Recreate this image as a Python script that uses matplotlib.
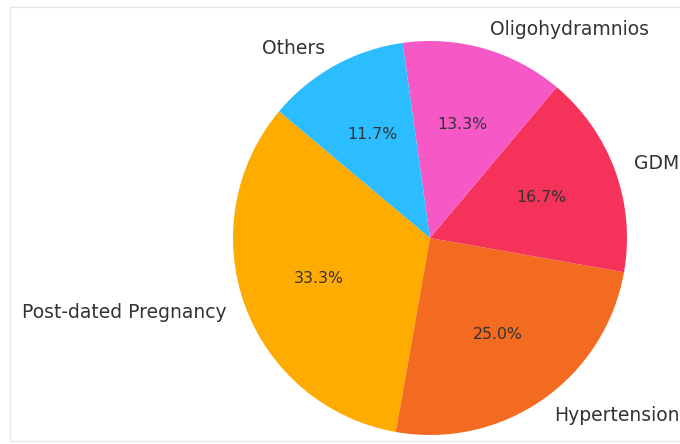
import matplotlib
matplotlib.use("Agg")
import matplotlib.pyplot as plt
from matplotlib.patches import Rectangle

labels = ["Post-dated Pregnancy", "Hypertension", "GDM", "Oligohydramnios", "Others"]
values = [20, 15, 10, 8, 7]
colors = ["#FFAC00", "#F26B21", "#F5325A", "#F658C5", "#2BBDFF"]

fig = plt.figure(figsize=(6.8, 4.44), dpi=100)
fig.patch.set_facecolor("white")
fig.patches.append(Rectangle((10/680, 3/444), 680/680, 434/444, transform=fig.transFigure,
                             fill=False, edgecolor="#e8e8e8", linewidth=1.0))

cx, cy, r = 430, 238, 197
ax = fig.add_axes([(cx - r)/680, (444 - cy - r)/444, 2*r/680, 2*r/444])
wedges, texts, autotexts = ax.pie(values, labels=labels, colors=colors, autopct="%1.1f%%",
                                  startangle=140, counterclock=True,
                                  labeldistance=1.1, pctdistance=0.6,
                                  textprops={"fontsize": 13.5, "color": "#333333"})
for t in autotexts:
    t.set_fontsize(11.3)
    t.set_color("#333333")
ax.set_xlim(-1, 1)
ax.set_ylim(-1, 1)
ax.set_aspect("equal")
ax.axis("off")
fig.savefig("out.png", dpi=100, facecolor="white")
